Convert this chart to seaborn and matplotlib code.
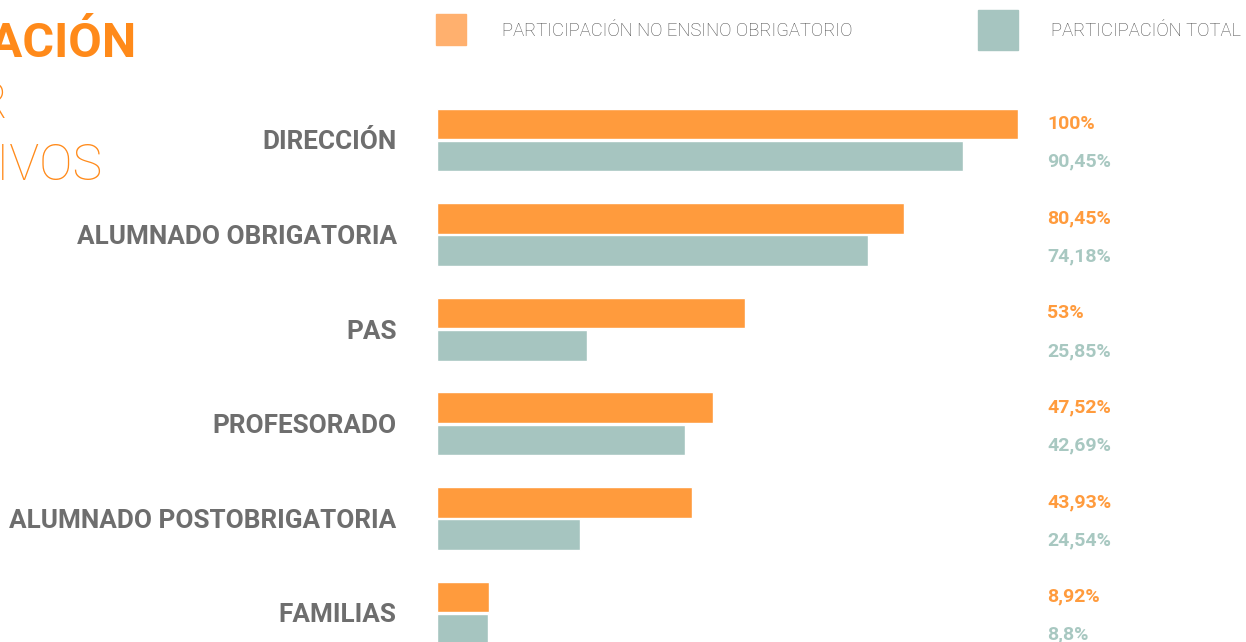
import pandas as pd
import matplotlib.pyplot as plt
import seaborn as sns
from matplotlib.patches import Rectangle

categories = ["DIRECCIÓN", "ALUMNADO OBRIGATORIA", "PAS", "PROFESORADO",
              "ALUMNADO POSTOBRIGATORIA", "FAMILIAS"]
no_ensino = [100, 80.45, 53, 47.52, 43.93, 8.92]
total = [90.45, 74.18, 25.85, 42.69, 24.54, 8.8]
series = ["PARTICIPACIÓN NO ENSINO OBRIGATORIO", "PARTICIPACIÓN TOTAL"]

orange = "#FF9B3D"
orange_light = "#FFB06E"
teal = "#A6C5C0"
grey = "#6E6E6E"
title_orange = "#FF8A1A"

df = pd.DataFrame({
    "cat": categories * 2,
    "val": no_ensino + total,
    "serie": [series[0]] * len(categories) + [series[1]] * len(categories),
})

sns.set_style("white")
plt.rcParams["font.family"] = ["Roboto", "DejaVu Sans"]

fig = plt.figure(figsize=(12.46, 6.42), dpi=100)
ax = fig.add_axes([437 / 1246, 0, 581 / 1246, 1])

sns.barplot(data=df, y="cat", x="val", hue="serie", orient="h",
            palette=[orange, teal], saturation=1, width=0.68, gap=0.05,
            order=categories, hue_order=series, legend=False, ax=ax)

ax.set_xlim(0, 100)
ax.set_ylim(5.307, -1.48)
ax.set_xlabel("")
ax.set_ylabel("")
ax.set_xticks([])
sns.despine(ax=ax, left=True, bottom=True)
ax.tick_params(axis="y", length=0, pad=29)
for lab in ax.get_yticklabels():
    lab.set_fontweight("bold")
    lab.set_fontsize(18.8)
    lab.set_color(grey)

def fmt(v):
    return (f"{v:g}").replace(".", ",") + "%"

for i, (a, b) in enumerate(zip(no_ensino, total)):
    ax.text(105, i - 0.17, fmt(a), color=orange, fontsize=14,
            fontweight="bold", va="center", ha="left", clip_on=False)
    ax.text(105, i + 0.23, fmt(b), color="#A8C8C1", fontsize=14,
            fontweight="bold", va="center", ha="left", clip_on=False)

# legend
W, H = 1246, 642
fig.add_artist(Rectangle((436 / W, 1 - 45 / H), 30 / W, 31 / H,
                         transform=fig.transFigure, color=orange_light))
fig.add_artist(Rectangle((978 / W, 1 - 50 / H), 40 / W, 40 / H,
                         transform=fig.transFigure, color=teal))
fig.text(502 / W, 1 - 31 / H, series[0], fontsize=13.3, color="#4A4A4A",
         va="center", ha="left", fontweight="light")
fig.text(1051 / W, 1 - 31 / H, series[1], fontsize=13.3, color="#4A4A4A",
         va="center", ha="left", fontweight="light")

# title (cropped at the left edge, as in the source)
fig.text(137 / W, 1 - 57 / H, "PARTICIPACIÓN", fontsize=35, color=title_orange,
         fontweight="bold", ha="right", va="baseline")
fig.text(8 / W, 1 - 118 / H, "POR", fontsize=36, color=title_orange,
         fontweight="light", ha="right", va="baseline")
fig.text(103 / W, 1 - 180 / H, "COLECTIVOS", fontsize=36, color=title_orange,
         fontweight="light", ha="right", va="baseline")

fig.savefig("out.png", dpi=100)
